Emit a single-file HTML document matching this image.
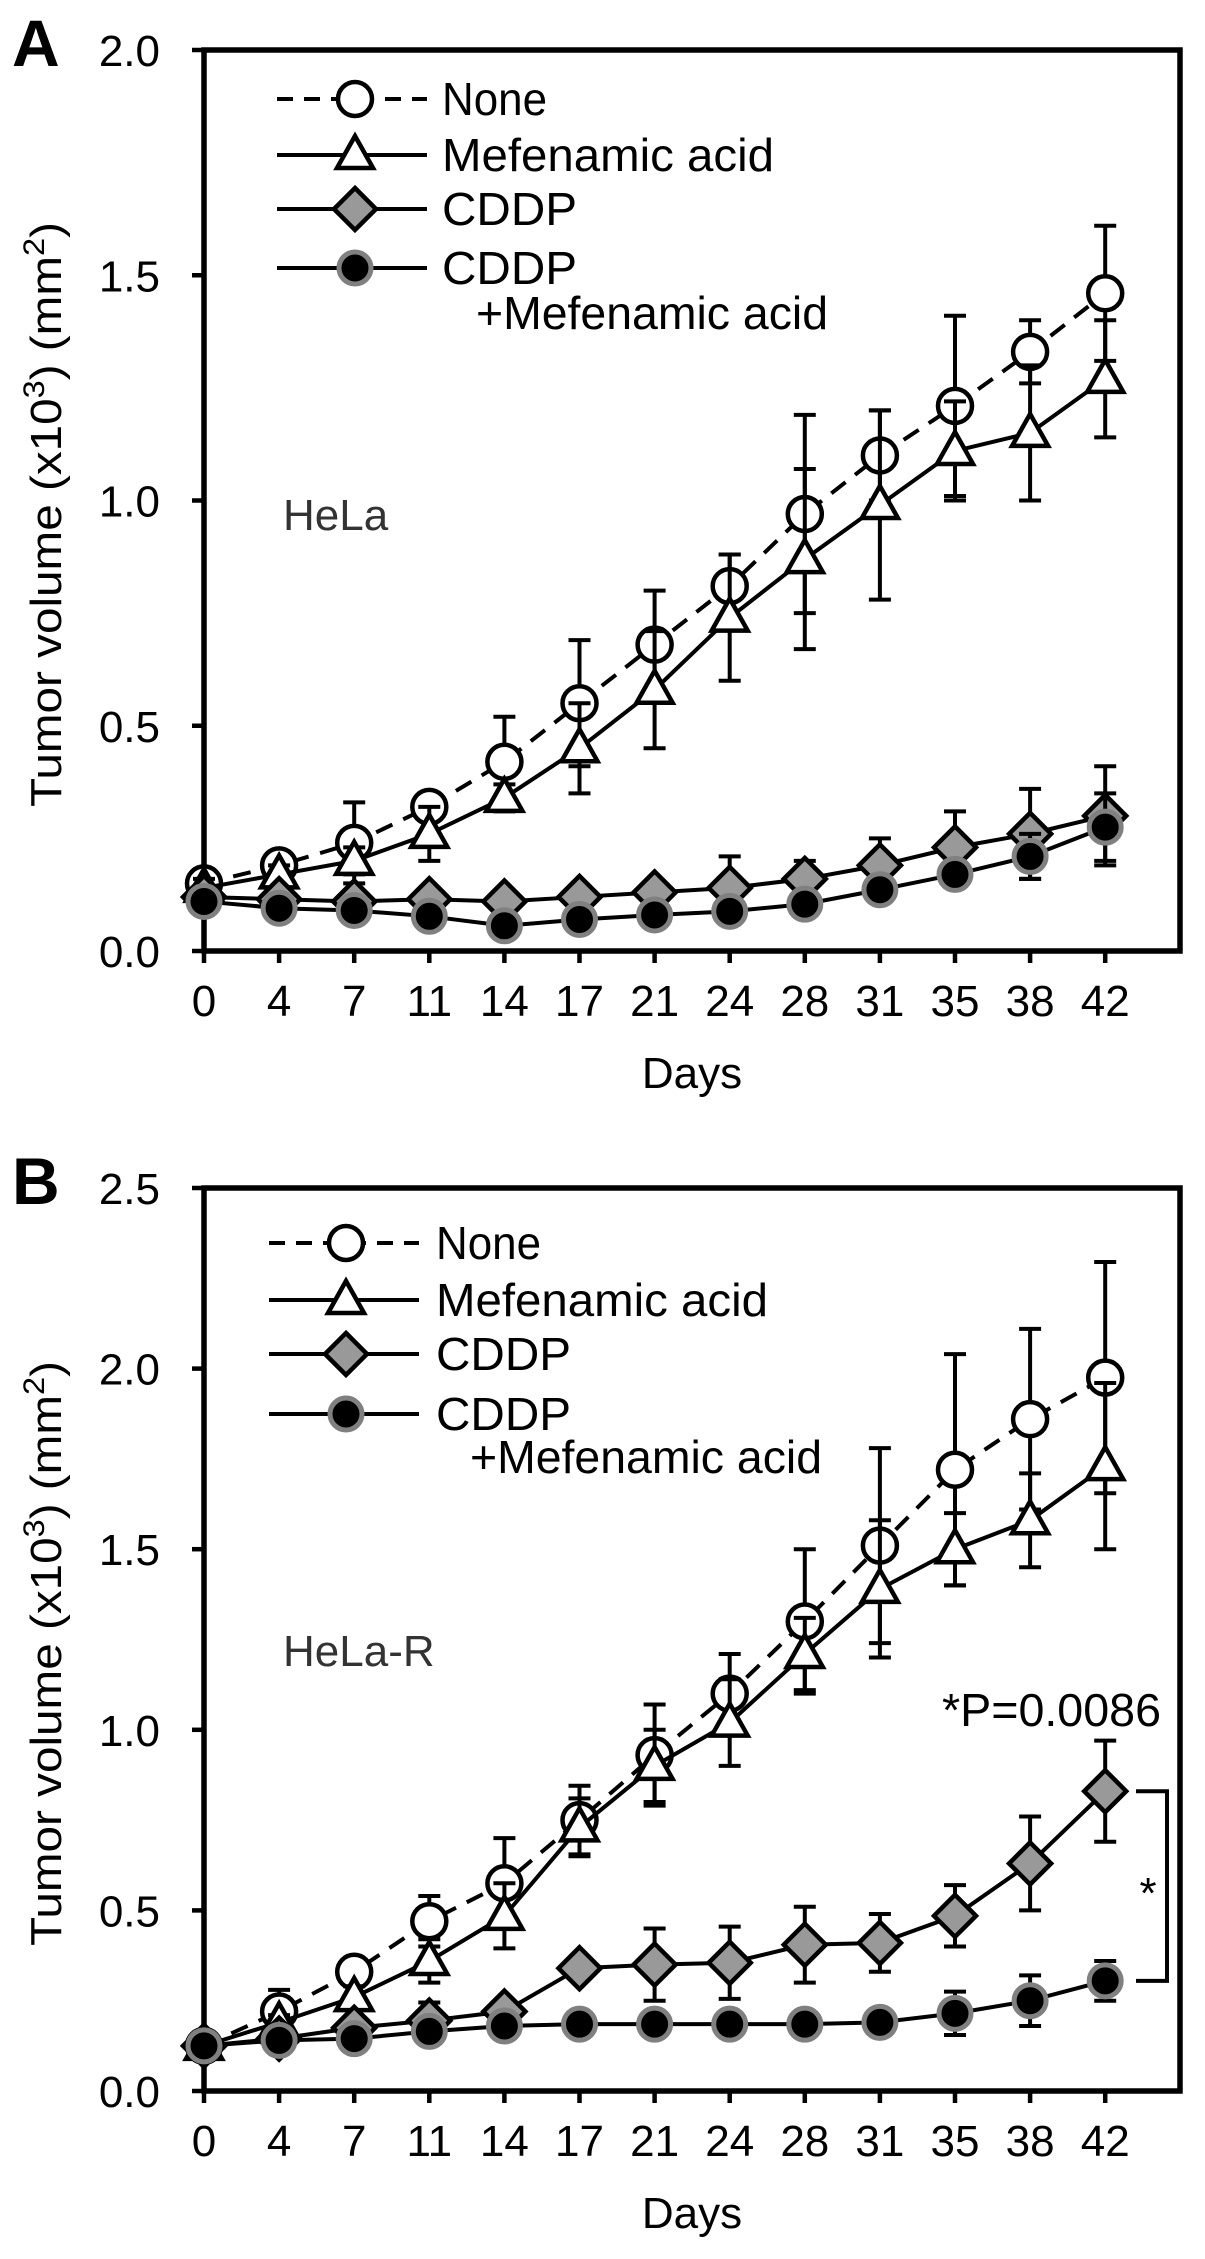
<!DOCTYPE html>
<html><head><meta charset="utf-8"><style>
html,body{margin:0;padding:0;background:#fff}
svg{display:block;font-family:"Liberation Sans",Arial,sans-serif}
</style></head><body>
<svg id="fig" width="1205" height="2259" viewBox="0 0 1205 2259" xmlns="http://www.w3.org/2000/svg"></svg>
<script>
const days = ["0","4","7","11","14","17","21","24","28","31","35","38","42"];
// Panel A (HeLa)
const aNone = [0.15,0.19,0.24,0.32,0.42,0.55,0.68,0.81,0.97,1.10,1.21,1.33,1.46];
const aNoneErr = [0.02,0.02,0.09,0.03,0.10,0.14,0.12,0.07,0.22,0.10,0.20,0.07,0.15];
const aMef = [0.14,0.17,0.20,0.26,0.34,0.45,0.58,0.74,0.87,0.99,1.11,1.15,1.27];
const aMefErr = [0.02,0.02,0.03,0.06,0.03,0.10,0.13,0.14,0.20,0.21,0.11,0.15,0.13];
const aCddp = [0.12,0.115,0.11,0.115,0.11,0.12,0.13,0.14,0.16,0.19,0.23,0.26,0.30];
const aCddpErr = [0.02,0.02,0.02,0.02,0.02,0.02,0.02,0.07,0.04,0.06,0.08,0.10,0.11];
const aCombo = [0.11,0.095,0.09,0.077,0.056,0.07,0.08,0.088,0.104,0.136,0.17,0.21,0.275];
const aComboErr = [0.02,0.02,0.02,0.02,0.02,0.02,0.02,0.02,0.02,0.02,0.02,0.05,0.075];
const aTicks = ["0.0","0.5","1.0","1.5","2.0"];
// Panel B (HeLa-R)
const bNone = [0.125,0.22,0.33,0.47,0.575,0.75,0.93,1.10,1.30,1.51,1.72,1.86,1.975];
const bNoneErr = [0.02,0.06,0.03,0.07,0.125,0.095,0.14,0.11,0.20,0.27,0.32,0.25,0.32];
const bMef = [0.125,0.19,0.26,0.36,0.485,0.73,0.90,1.02,1.21,1.39,1.50,1.58,1.73];
const bMefErr = [0.02,0.02,0.03,0.06,0.09,0.08,0.10,0.12,0.10,0.19,0.10,0.13,0.23];
const bCddp = [0.125,0.145,0.175,0.195,0.22,0.34,0.35,0.355,0.405,0.41,0.485,0.63,0.83];
const bCddpErr = [0.02,0.02,0.03,0.05,0.03,0.01,0.10,0.10,0.105,0.08,0.085,0.13,0.14];
const bCombo = [0.125,0.14,0.145,0.165,0.18,0.185,0.185,0.185,0.185,0.19,0.215,0.25,0.305];
const bComboErr = [0.03,0.03,0.03,0.03,0.03,0.02,0.03,0.03,0.03,0.03,0.06,0.07,0.055];
const bTicks = ["0.0","0.5","1.0","1.5","2.0","2.5"];

const NS="http://www.w3.org/2000/svg";
const svg=document.getElementById('fig');
function mk(tag,attrs,parent,txt){const e=document.createElementNS(NS,tag);for(const k in attrs)e.setAttribute(k,attrs[k]);if(txt!==undefined)e.textContent=txt;(parent||svg).appendChild(e);return e;}

function marker(g,type,x,y){
  let e;
  if(type==='circle'){e=mk('circle',{cx:x,cy:y,r:17,fill:'#fff',stroke:'#000','stroke-width':4.5},g);}
  else if(type==='tri'){e=mk('polygon',{points:`${x},${y-19} ${x+18},${y+13} ${x-18},${y+13}`,fill:'#fff',stroke:'#000','stroke-width':4.5,'stroke-linejoin':'miter'},g);}
  else if(type==='diamond'){e=mk('polygon',{points:`${x},${y-21} ${x+21},${y} ${x},${y+21} ${x-21},${y}`,fill:'#999',stroke:'#000','stroke-width':4.5},g);}
  else {e=mk('circle',{cx:x,cy:y,r:16,fill:'#000',stroke:'#808080','stroke-width':5},g);}
  return e;
}

function panel(p){
  const L=204,R=1180,T=p.top,B=p.bottom,step=75.1;
  const xs=i=>L+i*step;
  const ys=v=>B-(v/p.max)*(B-T);
  const g=mk('g',{});
  
  
  const lbl=mk('text',{x:12,y:T+16,'font-size':66,'font-weight':'bold'},g,p.letter);
  
  
  const fr=mk('rect',{x:L,y:T,width:R-L,height:B-T,fill:'none',stroke:'#000','stroke-width':5.5},g);
  
  
  p.ticks.forEach((t,i)=>{
    const v=parseFloat(t),y=ys(v);
    mk('line',{x1:L-12,x2:L,y1:y,y2:y,stroke:'#000','stroke-width':4.5},g);
    const tt=mk('text',{x:L-44,y:y+16,'font-size':44,'text-anchor':'end'},g,t);
    
    
  });
  days.forEach((d,i)=>{
    const x=xs(i);
    mk('line',{x1:x,x2:x,y1:B,y2:B+12,stroke:'#000','stroke-width':4.5},g);
    const tt=mk('text',{x:x,y:B+65,'font-size':44,'text-anchor':'middle'},g,d);
    
    
  });
  const xt=mk('text',{x:692,y:B+137,'font-size':44,'text-anchor':'middle'},g,'Days');
  
  
  const cy=(T+B)/2+14;
  const yt=mk('text',{x:0,y:0,'font-size':44,'text-anchor':'middle',textLength:585,lengthAdjust:'spacingAndGlyphs',transform:`translate(61,${cy}) rotate(-90)`},g);
  
  
  mk('tspan',{},yt,'Tumor volume (x10');
  mk('tspan',{'font-size':30,dy:-17},yt,'3');
  mk('tspan',{dy:17},yt,') (mm');
  mk('tspan',{'font-size':30,dy:-17},yt,'2');
  mk('tspan',{dy:17},yt,')');
  p.series.forEach(s=>{
    const sg=mk('g',{},g);
    
    
    s.vals.forEach((v,i)=>{
      const x=xs(i),e=s.err[i];
      mk('line',{x1:x,x2:x,y1:ys(v+e),y2:ys(v-e),stroke:'#000','stroke-width':4},sg);
      mk('line',{x1:x-11,x2:x+11,y1:ys(v+e),y2:ys(v+e),stroke:'#000','stroke-width':4},sg);
      mk('line',{x1:x-11,x2:x+11,y1:ys(v-e),y2:ys(v-e),stroke:'#000','stroke-width':4},sg);
    });
    const pts=s.vals.map((v,i)=>xs(i)+','+ys(v)).join(' ');
    const pl=mk('polyline',{points:pts,fill:'none',stroke:'#000','stroke-width':4,'stroke-dasharray':s.dash?'18,12':'none'},sg);
    
    
    s.vals.forEach((v,i)=>{
      const m=marker(sg,s.type,xs(i),ys(v));
      
      
    });
  });
  const lg=mk('g',{},g);
  
  
  const labels=['None','Mefenamic acid','CDDP','CDDP'];
  const widths=[105,332,135,135];
  p.series.forEach((s,i)=>{
    const y=p.legY[i];
    mk('line',{x1:p.legX1,x2:p.legX2,y1:y,y2:y,stroke:'#000','stroke-width':4,'stroke-dasharray':s.dash?'16,11':'none'},lg);
    marker(lg,s.type,p.legM,y);
    const t=mk('text',{x:p.legT,y:y+16,'font-size':46,textLength:widths[i],lengthAdjust:'spacingAndGlyphs'},lg,labels[i]);
    
    
  });
  const t2=mk('text',{x:p.legT+34,y:p.legY[4]+16,'font-size':46,textLength:352,lengthAdjust:'spacingAndGlyphs'},lg,'+Mefenamic acid');
  
  
  const cl=mk('text',{x:283,y:p.cellY,'font-size':44,fill:'#333'},g,p.cell);
  
  
  return {xs,ys,g};
}

panel({id:'a',letter:'A',top:50,bottom:951,max:2.0,ticks:aTicks,cell:'HeLa',cellY:530,
  legX1:277,legX2:427,legM:355,legT:442,legY:[99,155,209,268,313],
  series:[
    {name:'none',vals:aNone,err:aNoneErr,type:'circle',dash:true},
    {name:'mefenamic',vals:aMef,err:aMefErr,type:'tri'},
    {name:'cddp',vals:aCddp,err:aCddpErr,type:'diamond'},
    {name:'cddp-mefenamic',vals:aCombo,err:aComboErr,type:'dot'}]});

const pb=panel({id:'b',letter:'B',top:1188,bottom:2091,max:2.5,ticks:bTicks,cell:'HeLa-R',cellY:1666,
  legX1:269,legX2:419,legM:346,legT:436,legY:[1243,1300,1354,1414,1457],
  series:[
    {name:'none',vals:bNone,err:bNoneErr,type:'circle',dash:true},
    {name:'mefenamic',vals:bMef,err:bMefErr,type:'tri'},
    {name:'cddp',vals:bCddp,err:bCddpErr,type:'diamond'},
    {name:'cddp-mefenamic',vals:bCombo,err:bComboErr,type:'dot'}]});

const yTop=pb.ys(bCddp[12]), yBot=pb.ys(bCombo[12]);
const br=mk('polyline',{points:`1136,${yTop} 1167,${yTop} 1167,${yBot} 1136,${yBot}`,fill:'none',stroke:'#000','stroke-width':4},pb.g);


const st=mk('text',{x:1148,y:(yTop+yBot)/2+22,'font-size':44,'text-anchor':'middle'},pb.g,'*');


const pv=mk('text',{x:942,y:1726,'font-size':46,textLength:219,lengthAdjust:'spacingAndGlyphs'},pb.g,'*P=0.0086');


</script>
</body></html>
